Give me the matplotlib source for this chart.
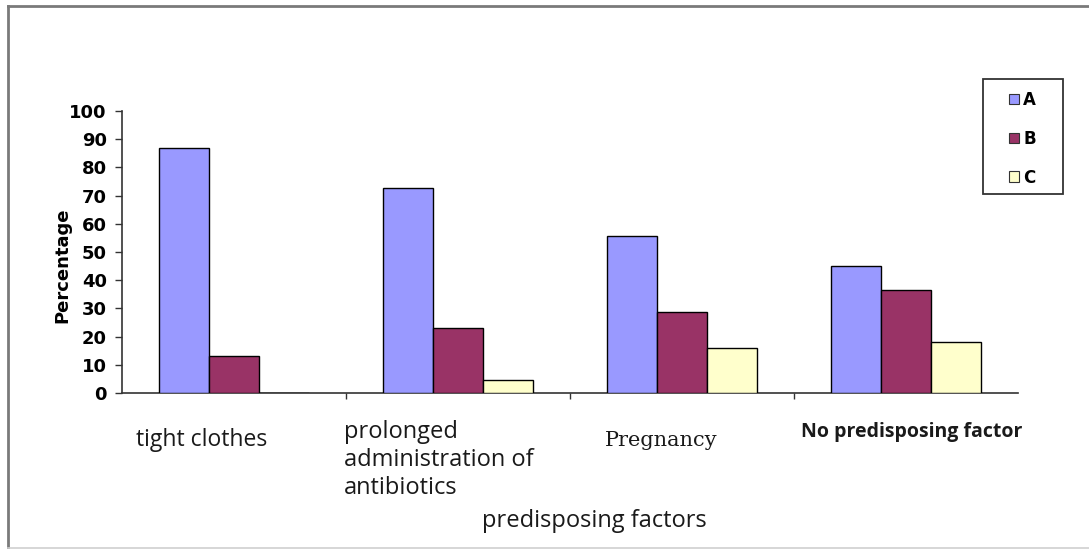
import matplotlib
matplotlib.use("Agg")
import matplotlib.pyplot as plt
from matplotlib.patches import Rectangle, Patch
from matplotlib.lines import Line2D
import numpy as np

categories = ["tight clothes",
              "prolonged\nadministration of\nantibiotics",
              "Pregnancy",
              "No predisposing factor"]
series_names = ["A", "B", "C"]
values_a = [87, 72.7, 55.7, 45.1]
values_b = [13.2, 23.0, 28.8, 36.4]
values_c = [0, 4.7, 16.1, 18.0]
y_ticks = [0, 10, 20, 30, 40, 50, 60, 70, 80, 90, 100]

colors = ["#9999FF", "#993366", "#FFFFCC"]

W, H = 1089, 549
fig = plt.figure(figsize=(W / 100, H / 100), dpi=100)
fig.patch.set_facecolor("white")

def fx(px):
    return px / W

def fy(py):
    return 1 - py / H

# outer chart frame (top/left darker, bottom light)
fig.add_artist(Line2D([fx(8), 1.0], [fy(6), fy(6)], transform=fig.transFigure,
                      color="#7a7a7a", linewidth=2.0))
fig.add_artist(Line2D([fx(8), fx(8)], [fy(6), fy(548)], transform=fig.transFigure,
                      color="#7a7a7a", linewidth=2.0))
fig.add_artist(Line2D([fx(8), 1.0], [fy(548), fy(548)], transform=fig.transFigure,
                      color="#d0d0d0", linewidth=1.2))

ax = fig.add_axes([fx(122), fy(393), fx(1018) - fx(122), fy(111) - fy(393)])

n = len(categories)
x = np.arange(n) + 0.5
bw = 0.224
for i, vals in enumerate([values_a, values_b, values_c]):
    ax.bar(x + (i - 1) * bw, vals, width=bw, color=colors[i],
           edgecolor="black", linewidth=1.0, label=series_names[i], zorder=3)

ax.set_xlim(0, n)
ax.set_ylim(0, 100)
ax.set_yticks(y_ticks)
ax.set_yticklabels([str(t) for t in y_ticks], fontsize=13,
                   fontweight="bold", family="DejaVu Sans")
ax.set_xticks(np.arange(1, n))
ax.set_xticklabels([])
ax.tick_params(axis="y", direction="out", length=5, width=1, pad=6, colors="#333333",
               labelcolor="black")
ax.tick_params(axis="x", direction="out", length=4, width=1, colors="#333333")
for s in ["top", "right"]:
    ax.spines[s].set_visible(False)
for s in ["left", "bottom"]:
    ax.spines[s].set_color("#333333")
    ax.spines[s].set_linewidth(1.2)

fig.text(fx(62), fy(265), "Percentage", rotation=90, ha="center", va="center",
         fontsize=13, fontweight="bold", family="DejaVu Sans")

# category labels
fig.text(fx(136), fy(440), categories[0], ha="left", va="center",
         fontsize=16.5, family="Open Sans", color="#1a1a1a")
fig.text(fx(344), fy(460), categories[1], ha="left", va="center",
         fontsize=17, family="Open Sans", color="#1a1a1a", linespacing=1.25)
fig.text(fx(605), fy(441), categories[2], ha="left", va="center",
         fontsize=15, family="DejaVu Serif", color="#1a1a1a")
fig.text(fx(801), fy(432), categories[3], ha="left", va="center",
         fontsize=14, fontweight="bold", family="Open Sans", color="#1a1a1a")
fig.text(fx(482), fy(521), "predisposing factors", ha="left", va="center",
         fontsize=17, family="Open Sans", color="#1a1a1a")

# legend: frame drawn separately, entries placed inside it
fig.patches.append(Rectangle((fx(983), fy(194)), fx(1063) - fx(983), fy(79) - fy(194),
                             transform=fig.transFigure, fill=False,
                             edgecolor="#333333", linewidth=1.3))
handles = [Patch(facecolor=c, edgecolor="#333333", linewidth=0.8) for c in colors]
leg = fig.legend(handles, series_names, loc="upper left",
                 bbox_to_anchor=(fx(1009), fy(91)), bbox_transform=fig.transFigure,
                 frameon=False, handlelength=0.6, handleheight=0.6,
                 handletextpad=0.25, labelspacing=1.25, borderpad=0,
                 borderaxespad=0, prop={"family": "DejaVu Sans", "weight": "bold",
                                        "size": 12})

fig.savefig("out.png", dpi=100)
